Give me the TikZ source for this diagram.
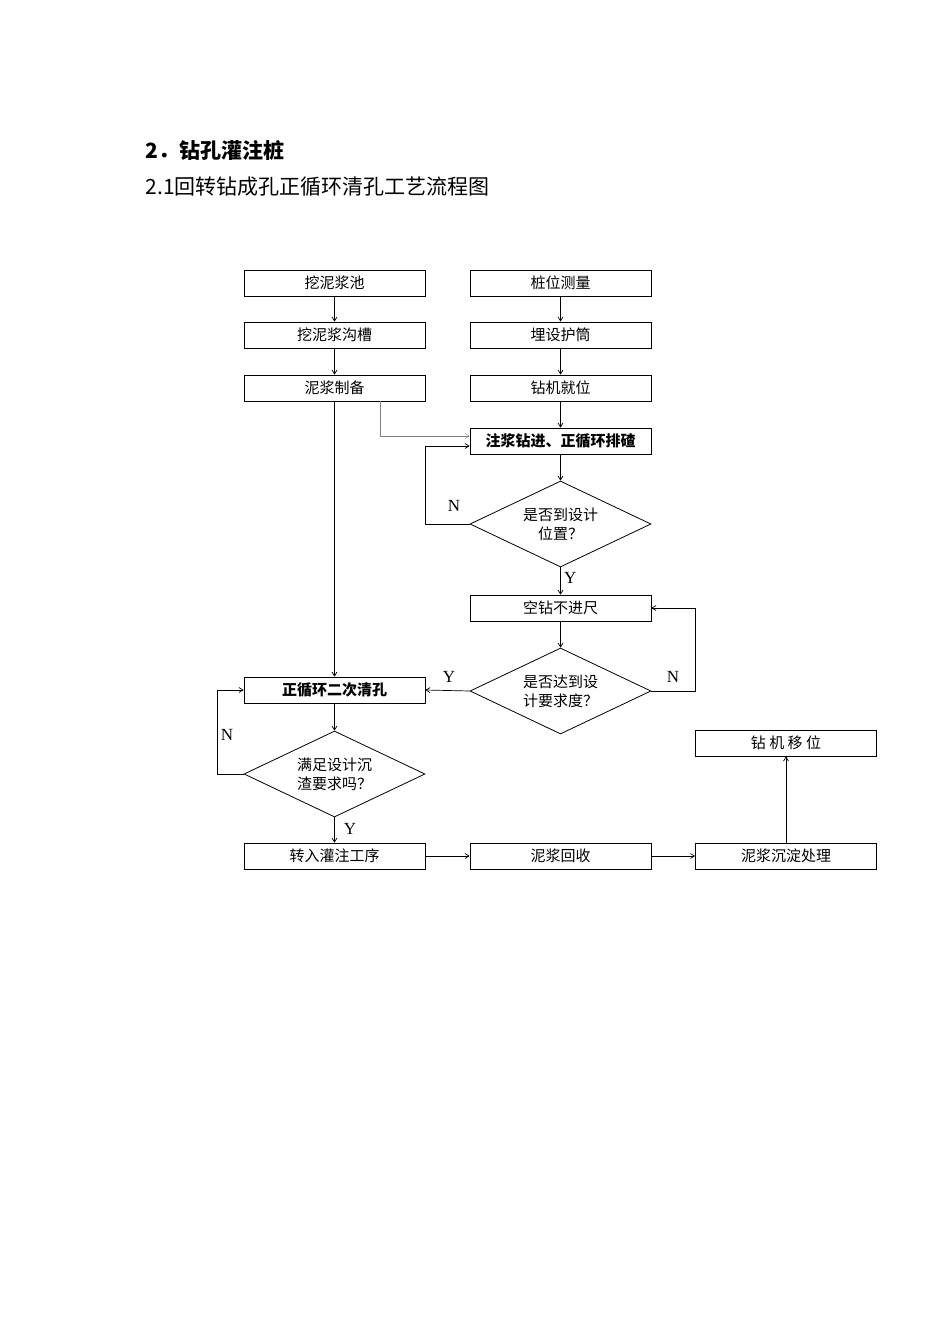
\documentclass[tikz,border=0pt]{standalone}
\usepackage{fontspec}
\setmainfont{Liberation Serif}
\newfontfamily\cjk{Noto Sans CJK SC}
\usetikzlibrary{shapes.geometric,arrows.meta}
\begin{document}
\begin{tikzpicture}[x=1pt,y=-1pt,
  bx/.style={draw,line width=0.8pt,minimum width=181pt,minimum height=26pt,inner sep=0pt,font=\cjk\fontsize{15}{17}\selectfont},
  bbx/.style={bx,font=\cjk\bfseries\fontsize{15}{17}\selectfont},
  dm/.style={draw,line width=0.8pt,diamond,minimum width=181pt,minimum height=86pt,aspect=2.1,inner sep=0pt,align=center,font=\cjk\fontsize{15}{19}\selectfont},
  ar/.style={-{Straight Barb[length=4pt,width=5pt]},line width=0.7pt},
  lb/.style={font=\fontsize{17}{19}\selectfont}]
\useasboundingbox (0,0) rectangle (950,1344);
\node[anchor=west,font=\cjk\bfseries\fontsize{21}{24}\selectfont] (t1) at (142,150) {2．钻孔灌注桩};
\node[anchor=west,font=\cjk\fontsize{21}{24}\selectfont] (t2) at (142,187) {2.1回转钻成孔正循环清孔工艺流程图};
\node[bx] (a1) at (334.5,283) {挖泥浆池};
\node[bx] (a2) at (334.5,335) {挖泥浆沟槽};
\node[bx] (a3) at (334.5,388) {泥浆制备};
\node[bx] (b1) at (560.5,283) {桩位测量};
\node[bx] (b2) at (560.5,335) {埋设护筒};
\node[bx] (b3) at (560.5,388) {钻机就位};
\node[bbx] (b4) at (560.5,441) {注浆钻进、正循环排碴};
\node[dm] (d1) at (560.5,524) {是否到设计\\位置？};
\node[bx] (b5) at (560.5,608) {空钻不进尺};
\node[dm] (d2) at (560.5,691) {是否达到设\\计要求度？};
\node[bbx] (a4) at (334.5,690) {正循环二次清孔};
\node[dm] (d3) at (334.5,774) {满足设计沉\\渣要求吗？};
\node[bx] (c1) at (334.5,856) {转入灌注工序};
\node[bx] (c2) at (560.5,856) {泥浆回收};
\node[bx] (c3) at (786,856) {泥浆沉淀处理};
\node[bx] (c4) at (786,743) {钻\ 机\ 移\ 位};
\draw[ar] (a1) -- (a2);
\draw[ar] (a2) -- (a3);
\draw[ar] (b1) -- (b2);
\draw[ar] (b2) -- (b3);
\draw[ar] (b3) -- (b4);
\draw[ar] (b4) -- (d1);
\draw[ar] (d1) -- node[lb,right,pos=0.4]{Y} (b5);
\draw[ar] (b5) -- (d2);
\draw[ar] (a3) -- (a4);
\draw[ar,line width=0.4pt,gray] (a3.south -| 380,0) -- (380,436) -- (b4.west |- 0,436);
\draw[ar] (d1.west) -- (425,524) -- (425,446) -- (b4.west |- 0,446);
\node[lb] (n1) at (454,506) {N};
\draw[ar] (d2.east) -- (695,691) -- (695,608) -- (b5.east);
\node[lb] (n2) at (673,677) {N};
\draw[ar] (d2.west) -- (a4.east);
\node[lb] (y2) at (449,677) {Y};
\draw[ar] (a4) -- (d3);
\draw[ar] (d3.west) -- (217,774) -- (217,690) -- (a4.west);
\node[lb] (n3) at (227,735) {N};
\draw[ar] (d3) -- (c1);
\node[lb] (y3) at (350,829) {Y};
\draw[ar] (c1) -- (c2);
\draw[ar] (c2) -- (c3);
\draw[ar] (c3) -- (c4);
\end{tikzpicture}
\end{document}
